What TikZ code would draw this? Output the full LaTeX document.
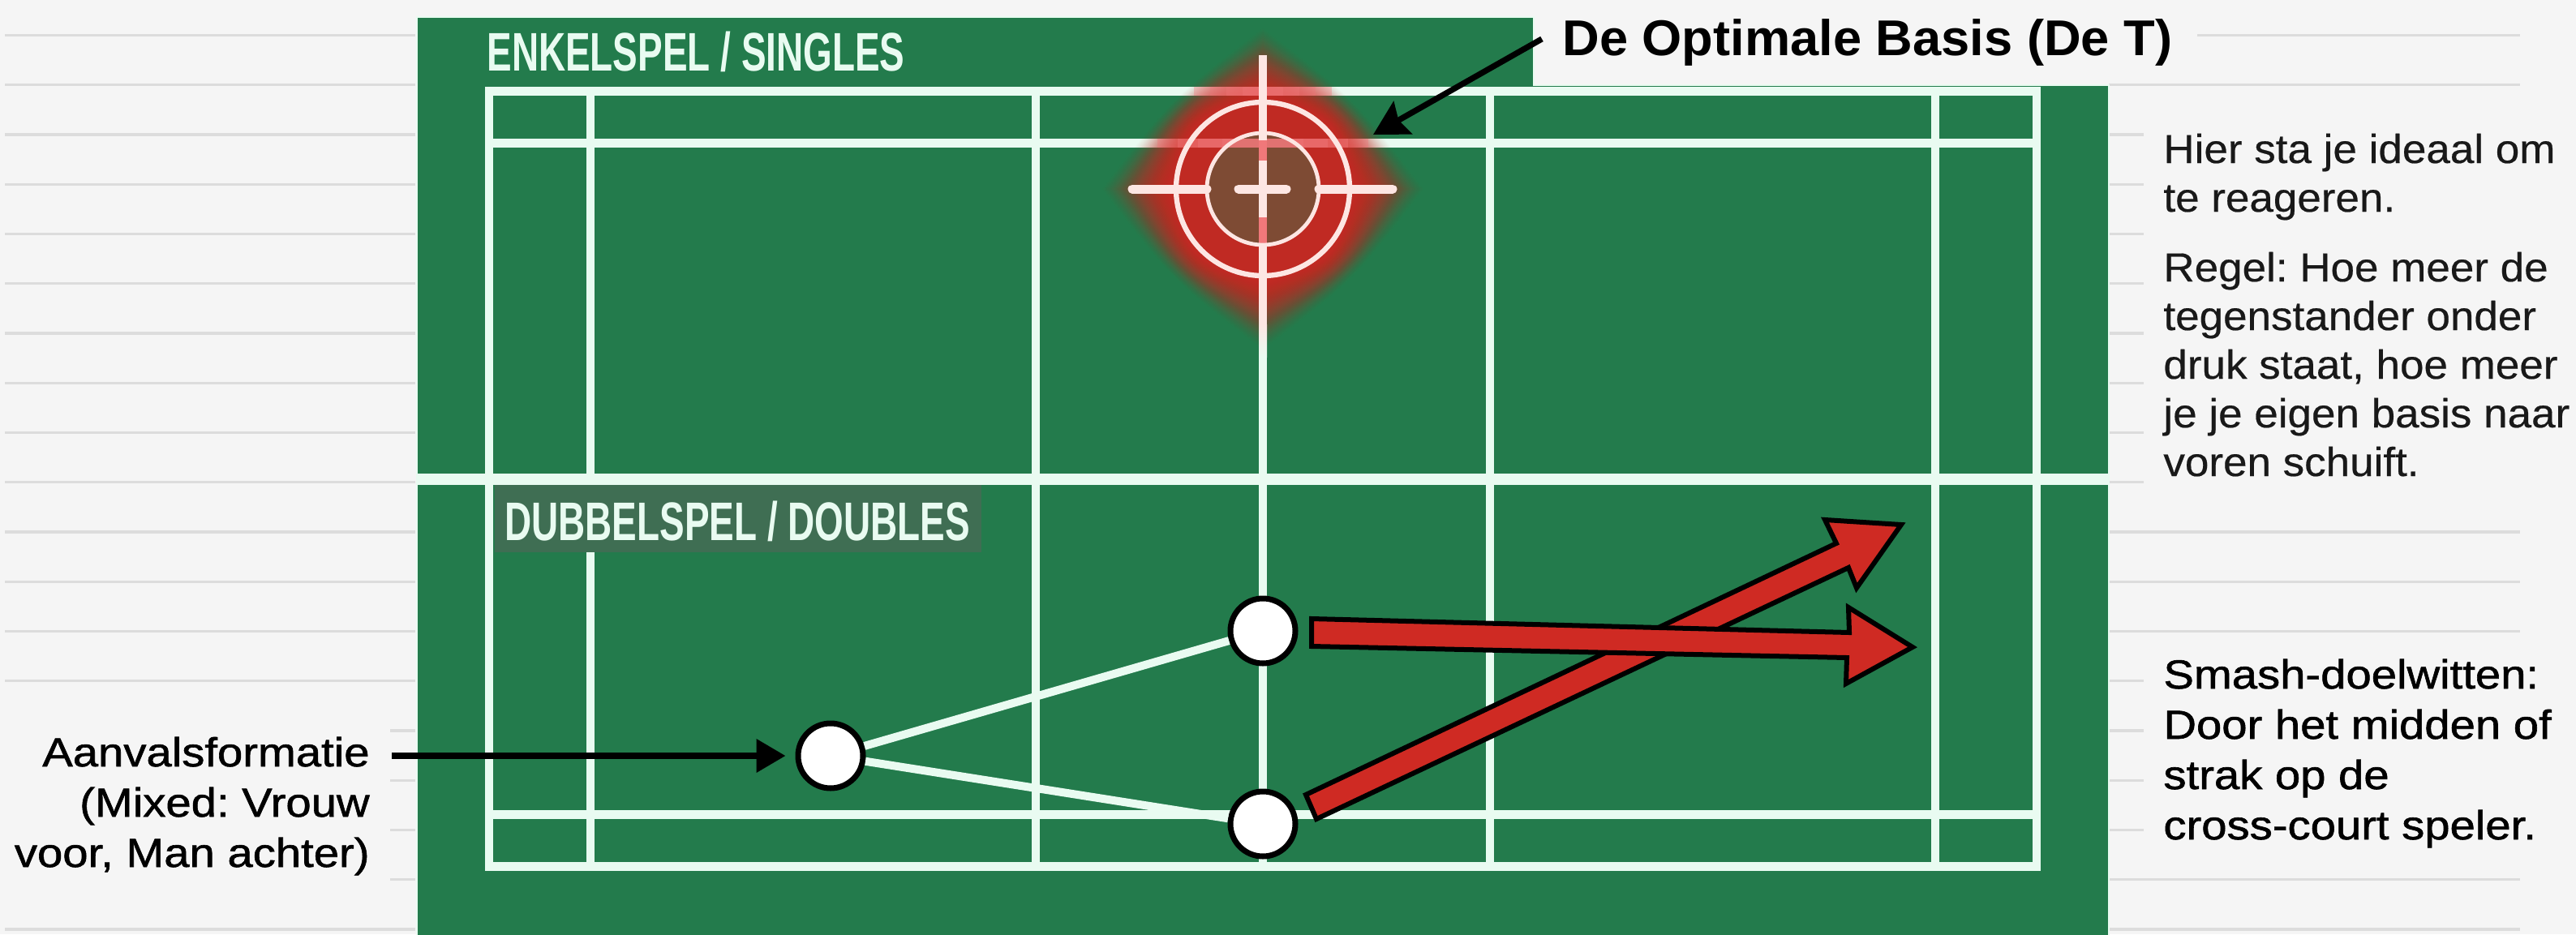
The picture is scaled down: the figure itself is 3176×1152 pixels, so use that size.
\documentclass[tikz,border=0pt]{standalone}
\usepackage{fontspec}
\usetikzlibrary{arrows.meta}
\setmainfont{Liberation Sans}
\newfontfamily\condfont[FakeStretch=0.685]{Liberation Sans Bold}
\newfontfamily\medfont[FakeBold=1.2,FakeStretch=1.125]{Liberation Sans}
\newfontfamily\bodyfont[FakeBold=0.4,FakeStretch=1.06]{Liberation Sans}
\newfontfamily\titlefont[FakeStretch=1.02]{Liberation Sans Bold}
\definecolor{bg}{HTML}{F5F5F5}
\definecolor{court}{HTML}{237B4C}
\definecolor{chalk}{HTML}{E9FBF1}
\definecolor{rule}{HTML}{DCDCDC}
\definecolor{hot}{HTML}{CF2A23}
\definecolor{pinkline}{HTML}{FDE6E3}
\definecolor{pinkhot}{HTML}{F0787A}
\definecolor{labelbg}{HTML}{3F6E53}
\tikzset{
  x=0.5pt,y=-0.5pt,
  bgrule/.style={draw=rule,line width=1.6pt},
  chalkv/.style={draw=chalk,line width=5pt},
  chalkh/.style={draw=chalk,line width=5.5pt},
  player/.style={circle,draw=black,fill=white,line width=3.5pt,minimum size=40pt,inner sep=0pt},
  linkline/.style={draw=chalk,line width=5pt},
  shot/.style={draw=black,fill=hot,line width=3pt,line join=miter,miter limit=6},
  callout/.style={draw=black,line width=3.6pt},
  heading/.style={inner sep=0pt,text=chalk,font=\condfont\fontsize{33.5}{40}\selectfont},
  bodytext/.style={inner sep=0pt,align=left,text=black!90,font=\bodyfont\fontsize{25}{30}\selectfont},
  medtext/.style={inner sep=0pt,text=black,font=\medfont\fontsize{25}{31}\selectfont},
  ringline/.style={draw=pinkline},
}
\frenchspacing
\begin{document}
\begin{tikzpicture}
\useasboundingbox (0,0) rectangle (3176,1152);
\fill[bg] (0,0) rectangle (3176,1152);
% background ruled lines, left
\foreach \k in {0,...,13,18}{
  \draw[bgrule] (6,{43.5+61.25*\k}) -- (512,{43.5+61.25*\k});
}
\foreach \k in {14,...,17}{
  \draw[bgrule] (481,{43.5+61.25*\k}) -- (512,{43.5+61.25*\k});
}
% right
\draw[bgrule] (2709,43.5) -- (3107,43.5);
\foreach \k in {1,10,11,12,17,18}{
  \draw[bgrule] (2600,{43.5+61.25*\k}) -- (3107,{43.5+61.25*\k});
}
\foreach \k in {2,...,9,13,14,15,16}{
  \draw[bgrule] (2600,{43.5+61.25*\k}) -- (2643,{43.5+61.25*\k});
}
% court ground
\fill[court,draw=chalk,line width=1pt] (514,21) -- (1891,21) -- (1891,105) -- (2600,105) -- (2600,1160) -- (514,1160) -- cycle;
% court lines
\foreach \xx in {603,728,1277,1837,2386,2511}{
  \draw[chalkv] (\xx,112) -- (\xx,1068);
}
\draw[chalkv] (1557,68) -- (1557,1068);
\draw[chalkh] (598,112) -- (2516,112);
\draw[chalkh] (603,176) -- (2511,176);
\draw[chalkh] (598,1004.5) -- (2516,1004.5);
\draw[chalkh] (598,1068) -- (2516,1068);
\draw[draw=chalk,line width=7pt] (514,590.5) -- (2600,590.5);
% glow
\foreach \i in {0,...,44}{
  \pgfmathsetmacro{\A}{198-82*\i/44}
  \pgfmathsetmacro{\K}{112-24*\i/44}
  \pgfmathsetmacro{\op}{0.012+0.10*\i/44}
  \fill[hot,opacity=\op] ({1557+\A},233)
    .. controls ({1557+\K},{233-\K}) .. (1557,{233-\A})
    .. controls ({1557-\K},{233-\K}) .. ({1557-\A},233)
    .. controls ({1557-\K},{233+\K}) .. (1557,{233+\A})
    .. controls ({1557+\K},{233+\K}) .. ({1557+\A},233) -- cycle;
}
\fill[court,opacity=0.42] (1557,233) circle[radius=34.5pt];
% court lines tinted where they cross the glow
\foreach \d in {25,45,65,85}{
  \draw[pinkhot,opacity=0.35,line width=5.5pt] ({1557-\d},112) -- ({1557+\d},112);
}
\foreach \d in {50,80,105,130}{
  \draw[pinkhot,opacity=0.4,line width=5.5pt] ({1557-\d},176) -- ({1557+\d},176);
}
% target
\draw[ringline,line width=5pt] (1557,68) -- (1557,400);
\shade[top color=pinkline,bottom color=chalk] (1552,400) rectangle (1562,440);
\draw[pinkhot,line width=5pt] (1557,173) -- (1557,198);
\draw[pinkhot,line width=5pt] (1557,268) -- (1557,300);
\draw[ringline,line width=5.5pt,line cap=round] (1396,233) -- (1488,233);
\draw[ringline,line width=5.5pt,line cap=round] (1626,233) -- (1717,233);
\draw[ringline,line width=5.5pt,line cap=round] (1527,233) -- (1586,233);
\draw[ringline,line width=3.2pt] (1557,233) circle[radius=53.5pt];
\draw[ringline,line width=2.4pt] (1557,233) circle[radius=34.5pt];
% labels
\node[heading,anchor=base west] (singles) at (600,87) {ENKELSPEL / SINGLES};
\fill[labelbg] (610,598) rectangle (1210,681);
\node[heading,anchor=base west] (doubles) at (622,666) {DUBBELSPEL / DOUBLES};
% players
\node[player] (voor) at (1024,932) {};
\node[player] (achterA) at (1557,778) {};
\node[player] (achterB) at (1557,1016) {};
\draw[linkline] (voor) -- (achterA);
\draw[linkline] (voor) -- (achterB);
% red arrows
\draw[shot] (1610,980) -- (2264,670) -- (2250,641) -- (2344,647) -- (2289,725) -- (2279,700) -- (1623,1010) -- cycle;
\draw[shot] (1617,763) -- (2280,780) -- (2279,749) -- (2358,798) -- (2276,843) -- (2277,811) -- (1617,797) -- cycle;
% text
\node[anchor=base west,inner sep=0pt,font=\titlefont\fontsize{31}{36}\selectfont] (basis) at (1926,68) {De Optimale Basis (De T)};
\coordinate (basisFrom) at (1901,48);
\coordinate (basisTo) at (1693,166);
\draw[callout,-{Stealth[length=21pt,width=23pt,inset=3pt]}] (basisFrom) -- (basisTo);
\node[bodytext,anchor=base west] (hier) at (2667,261) {Hier sta je ideaal om\\te reageren.};
\node[bodytext,anchor=base west] (regel) at (2667,587) {Regel: Hoe meer de\\tegenstander onder\\druk staat, hoe meer\\je je eigen basis naar\\voren schuift.};
\node[medtext,align=left,anchor=base west] (smash) at (2667,1035) {Smash-doelwitten:\\Door het midden of\\strak op de\\cross-court speler.};
\node[medtext,align=right,anchor=base east] (aanval) at (456,1069) {Aanvalsformatie\\(Mixed: Vrouw\\voor, Man achter)};
\coordinate (aanvalFrom) at (483,932);
\draw[callout,shorten >=6pt,-{Triangle[length=18pt,width=20pt]}] (aanvalFrom) -- (voor.west);
\end{tikzpicture}
\end{document}
